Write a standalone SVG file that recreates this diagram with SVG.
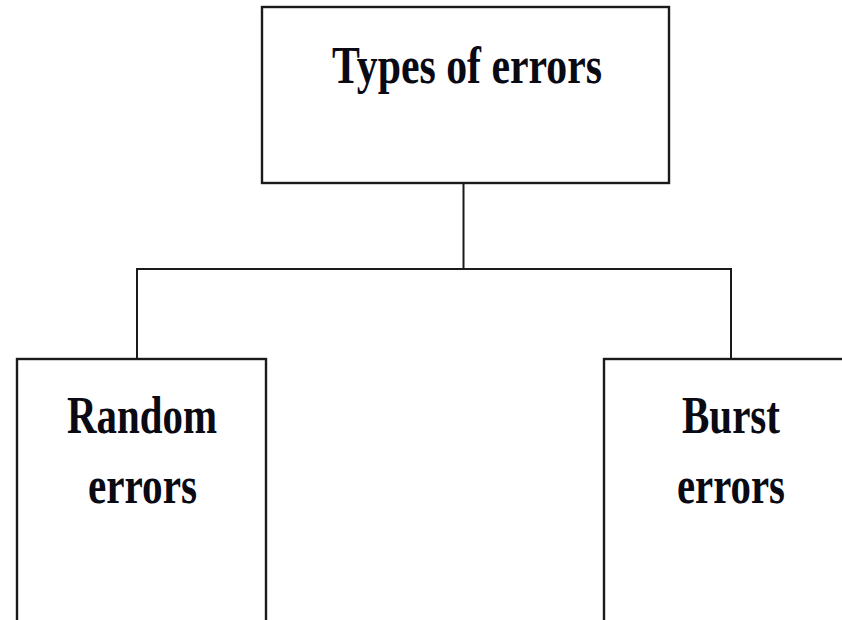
<svg xmlns="http://www.w3.org/2000/svg" width="842" height="620" viewBox="0 0 842 620">
  <style>
    .box { fill: #ffffff; stroke: #1a1a1a; stroke-width: 2.4; }
    .wire { fill: none; stroke: #1a1a1a; stroke-width: 2; }
    .label { font-family: "Liberation Serif", "Times New Roman", serif; font-weight: bold; font-size: 53px; fill: #0a0a14; text-anchor: middle; }
  </style>
  <rect width="842" height="620" fill="#ffffff"/>

  <!-- connectors -->
  <g id="connectors">
    <path class="wire" d="M463.5 183 V269.5"/>
    <path class="wire" d="M137 358 V269 H731 V358"/>
  </g>

  <g id="node-types">
    <rect class="box" x="262" y="7" width="407" height="176"/>
    <text class="label" x="467" y="83" textLength="270" lengthAdjust="spacingAndGlyphs">Types of errors</text>
  </g>

  <g id="node-random">
    <rect class="box" x="17" y="359" width="249" height="280"/>
    <text class="label" x="142" y="433" textLength="150" lengthAdjust="spacingAndGlyphs">Random</text>
    <text class="label" x="142.5" y="503" textLength="109" lengthAdjust="spacingAndGlyphs">errors</text>
  </g>

  <g id="node-burst">
    <rect class="box" x="604" y="359" width="260" height="280"/>
    <text class="label" x="731" y="433" textLength="98" lengthAdjust="spacingAndGlyphs">Burst</text>
    <text class="label" x="731" y="503" textLength="108" lengthAdjust="spacingAndGlyphs">errors</text>
  </g>
</svg>
